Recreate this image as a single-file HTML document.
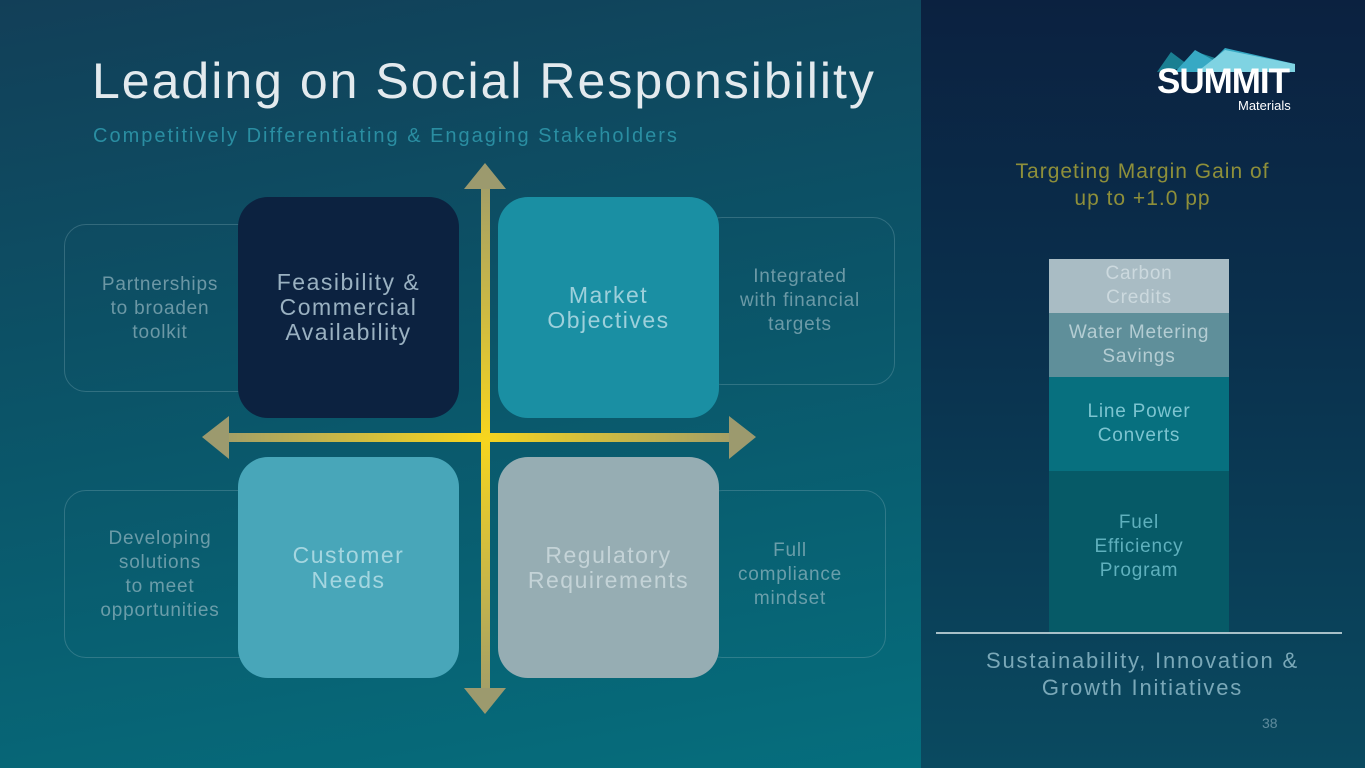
<!DOCTYPE html>
<html><head><style>
body{margin:0;width:1365px;height:768px;overflow:hidden;font-family:"Liberation Sans",sans-serif;}
.bg{position:absolute;left:0;top:0;width:921px;height:768px;background:linear-gradient(170deg,#123f58 0%,#0b5468 45%,#056e7d 100%);}
.rp{position:absolute;left:921px;top:0;width:444px;height:768px;background:linear-gradient(180deg,#0b2140 0%,#0a2f4c 40%,#0a4a60 100%);}
.a{position:absolute;}
.t{position:absolute;text-align:center;font-weight:300;}
.box{position:absolute;width:221px;height:221px;border-radius:30px;display:flex;align-items:center;justify-content:center;text-align:center;font-size:23px;line-height:25px;letter-spacing:1.5px;}
.ol{position:absolute;border:1px solid rgba(140,180,190,0.3);border-radius:22px;}
.side{position:absolute;color:rgba(160,190,200,0.65);font-size:19px;line-height:24px;text-align:center;letter-spacing:.8px;}
.seg{position:absolute;left:1049px;width:180px;display:flex;align-items:center;justify-content:center;text-align:center;font-size:19px;line-height:24px;letter-spacing:.8px;}
</style></head><body>
<div class="bg"></div><div class="rp"></div>
<div class="a" style="left:92px;top:52px;font-size:50px;color:#e3eaee;letter-spacing:2px;font-weight:300">Leading on Social Responsibility</div>
<div class="a" style="left:93px;top:125px;font-size:20px;color:#2a8ea2;letter-spacing:2px">Competitively Differentiating &amp; Engaging Stakeholders</div>

<div class="ol" style="left:64px;top:224px;width:200px;height:166px"></div>
<div class="ol" style="left:700px;top:217px;width:193px;height:166px"></div>
<div class="ol" style="left:64px;top:490px;width:200px;height:166px"></div>
<div class="ol" style="left:700px;top:490px;width:184px;height:166px"></div>
<div class="side" style="left:80px;top:273px;width:160px">Partnerships<br>to broaden<br>toolkit</div>
<div class="side" style="left:720px;top:265px;width:160px">Integrated<br>with financial<br>targets</div>
<div class="side" style="left:80px;top:527px;width:160px">Developing<br>solutions<br>to meet<br>opportunities</div>
<div class="side" style="left:710px;top:539px;width:160px">Full<br>compliance<br>mindset</div>

<div class="box" style="left:238px;top:197px;background:#0c2240;color:#9ab1c1">Feasibility &amp;<br>Commercial<br>Availability</div>
<div class="box" style="left:498px;top:197px;background:#1a8fa3;color:#9dd0db">Market<br>Objectives</div>
<div class="box" style="left:238px;top:457px;background:#48a6b9;color:#a5d6e0">Customer<br>Needs</div>
<div class="box" style="left:498px;top:457px;background:#96adb3;color:#c4d3d7">Regulatory<br>Requirements</div>

<svg class="a" style="left:0;top:0" width="921" height="768">
<defs>
<linearGradient id="h" x1="202" x2="756" y1="0" y2="0" gradientUnits="userSpaceOnUse"><stop offset="0" stop-color="#9c9a6e"/><stop offset="0.5" stop-color="#f7d51e"/><stop offset="1" stop-color="#9c9a6e"/></linearGradient>
<linearGradient id="v" x1="0" x2="0" y1="163" y2="714" gradientUnits="userSpaceOnUse"><stop offset="0" stop-color="#9c9a6e"/><stop offset="0.5" stop-color="#f7d51e"/><stop offset="1" stop-color="#9c9a6e"/></linearGradient>
</defs>
<rect x="228" y="433" width="502" height="9" fill="url(#h)"/>
<polygon points="202,437 229,416 229,459" fill="#9c9a6e"/>
<polygon points="756,437 729,416 729,459" fill="#9c9a6e"/>
<rect x="481" y="189" width="9" height="499" fill="url(#v)"/>
<polygon points="485,163 464,189 506,189" fill="#9c9a6e"/>
<polygon points="485,714 464,688 506,688" fill="#9c9a6e"/>
</svg>

<svg class="a" style="left:1157px;top:46px" width="140" height="26">
<polygon points="0,26 14,6 30,18 40,6 70,16" fill="#1a7f92"/>
<polygon points="18,26 38,4 56,14 68,2 138,18 138,26" fill="#37a9c4"/>
<polygon points="40,26 68,4 138,18 138,26" fill="#7fd3e2"/>
</svg>
<div class="a" style="left:1157px;top:64px;font-size:35px;font-weight:bold;color:#fff;letter-spacing:-1px;line-height:36px">SUMMIT</div>
<div class="a" style="left:1238px;top:98px;font-size:13px;color:#fff">Materials</div>

<div class="t" style="left:980px;top:158px;width:325px;font-size:21px;line-height:27px;color:#8e8f3a;letter-spacing:1px">Targeting Margin Gain of<br>up to +1.0 pp</div>
<div class="seg" style="top:259px;height:54px;background:#a9bcc4;color:#ccd9de">Carbon<br>Credits</div>
<div class="seg" style="top:313px;height:64px;background:#5f8f9a;color:#b4cdd3">Water Metering<br>Savings</div>
<div class="seg" style="top:377px;height:94px;background:#07707f;color:#7cc4d0">Line Power<br>Converts</div>
<div class="seg" style="top:471px;height:161px;background:#065a67;color:#5fb0bd;padding-bottom:10px;box-sizing:border-box">Fuel<br>Efficiency<br>Program</div>
<div class="a" style="left:936px;top:632px;width:406px;height:2px;background:#a8c0c8"></div>
<div class="t" style="left:950px;top:647px;width:385px;font-size:22px;line-height:27px;color:#7aa8b8;letter-spacing:1.8px">Sustainability, Innovation &amp;<br>Growth Initiatives</div>
<div class="a" style="left:1262px;top:715px;font-size:14px;color:#5f8c9d">38</div>
</body></html>
